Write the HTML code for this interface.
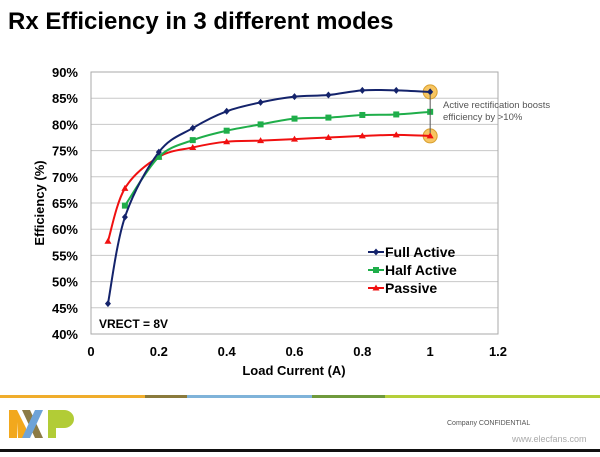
<!DOCTYPE html>
<html><head><meta charset="utf-8"><style>
body{margin:0;width:600px;height:452px;background:#fff;overflow:hidden;font-family:"Liberation Sans",Arial,sans-serif;}
</style></head><body>
<svg width="600" height="452" xmlns="http://www.w3.org/2000/svg">
<text x="8" y="29" font-size="24" font-weight="bold" fill="#000">Rx Efficiency in 3 different modes</text>
<g id="plot"></g>
<g>
<rect x="0" y="395" width="145" height="3" fill="#f0ad2c"/>
<rect x="145" y="395" width="42" height="3" fill="#8a7a3c"/>
<rect x="187" y="395" width="125" height="3" fill="#7fb3d9"/>
<rect x="312" y="395" width="73" height="3" fill="#6f9a3c"/>
<rect x="385" y="395" width="215" height="3" fill="#b5cf3a"/>
</g>
<g>
<polygon points="9,410 17,410 26,428 26,438 18,438 17,422 17,438 9,438" fill="#f2a81d"/>
<polygon points="22,410 30,410 43,438 35,438" fill="#8c7b45"/>
<polygon points="35,410 43,410 30,438 22,438" fill="#6ea3d8"/>
<path d="M48,410 h16 a10,9 0 0 1 0,18 h-8 v10 h-8z" fill="#b2cc36"/>
</g>
<text x="447" y="425" font-size="7" fill="#555">Company CONFIDENTIAL</text>
<text x="512" y="442" font-size="9" fill="#aaa">www.elecfans.com</text>
<rect x="0" y="449" width="600" height="3" fill="#111"/>
</svg>
<script>
const xFull=[0.05,0.1,0.2,0.3,0.4,0.5,0.6,0.7,0.8,0.9,1.0];
const yFull=[45.8,62.3,74.7,79.3,82.5,84.2,85.3,85.6,86.5,86.5,86.2];
const xHalf=[0.1,0.2,0.3,0.4,0.5,0.6,0.7,0.8,0.9,1.0];
const yHalf=[64.5,73.8,77.0,78.8,80.0,81.1,81.3,81.8,81.9,82.4];
const xPass=[0.05,0.1,0.2,0.3,0.4,0.5,0.6,0.7,0.8,0.9,1.0];
const yPass=[57.7,67.8,73.8,75.6,76.7,76.9,77.2,77.5,77.8,78.0,77.8];
const xTicks=["0","0.2","0.4","0.6","0.8","1","1.2"];
const yTicks=["40%","45%","50%","55%","60%","65%","70%","75%","80%","85%","90%"];
const NS="http://www.w3.org/2000/svg";
const g=document.getElementById('plot');
const L=91,R=498,T=72,B=334;
const sx=v=>L+(v/1.2)*(R-L);
const sy=v=>B-(v-40)/50*(B-T);
function el(t,a,p){const e=document.createElementNS(NS,t);for(const k in a)e.setAttribute(k,a[k]);(p||g).appendChild(e);return e;}
for(let i=1;i<yTicks.length;i++){
 const l=el('line',{x1:L,x2:R,y1:sy(40+i*5),y2:sy(40+i*5),stroke:'#c8c8c8','stroke-width':1});
 
 
}
const fr=el('rect',{x:L,y:T,width:R-L,height:B-T,fill:'none',stroke:'#aaa','stroke-width':1});


yTicks.forEach((t,i)=>{
 const e=el('text',{x:L-13,y:sy(40+i*5)+5,'font-size':13,'font-weight':'bold','text-anchor':'end'});e.textContent=t;
 
 
});
xTicks.forEach((t,i)=>{
 const e=el('text',{x:sx(i*0.2),y:B+22,'font-size':13,'font-weight':'bold','text-anchor':'middle'});e.textContent=t;
 
 
});
const xt=el('text',{x:294,y:375,'font-size':13,'font-weight':'bold','text-anchor':'middle'});xt.textContent='Load Current (A)';


const yt=el('text',{x:0,y:0,'font-size':13,'font-weight':'bold','text-anchor':'middle',transform:'translate(44,203) rotate(-90)'});yt.textContent='Efficiency (%)';


const vr=el('text',{x:99,y:328,'font-size':12,'font-weight':'bold'});vr.textContent='VRECT = 8V';


function path(xs,ys){
 const p=xs.map((x,i)=>[sx(x),sy(ys[i])]);
 let d='M'+p[0][0]+','+p[0][1];
 for(let i=0;i<p.length-1;i++){
  const p0=p[i-1]||p[i],p1=p[i],p2=p[i+1],p3=p[i+2]||p2;
  const c1=[p1[0]+(p2[0]-p0[0])/6,p1[1]+(p2[1]-p0[1])/6];
  const c2=[p2[0]-(p3[0]-p1[0])/6,p2[1]-(p3[1]-p1[1])/6];
  d+=' C'+c1+' '+c2+' '+p2;
 }
 return d;
}
[86.2,77.8].forEach(v=>{
 const c=el('circle',{cx:sx(1),cy:sy(v),r:7,fill:'#f7c561',stroke:'#d9a030','stroke-width':1});
 
 
});
function series(xs,ys,color,shape,name){
 const s=el('path',{d:path(xs,ys),fill:'none',stroke:color,'stroke-width':2});
 
 
 xs.forEach((x,i)=>{
  const cx=sx(x),cy=sy(ys[i]);let m;
  if(shape==='d')m=el('polygon',{points:`${cx},${cy-3.5} ${cx+3},${cy} ${cx},${cy+3.5} ${cx-3},${cy}`,fill:color});
  else if(shape==='s')m=el('rect',{x:cx-3,y:cy-3,width:6,height:6,fill:color});
  else m=el('polygon',{points:`${cx},${cy-3.5} ${cx+3.5},${cy+2.5} ${cx-3.5},${cy+2.5}`,fill:color});
  
  
 });
}
series(xPass,yPass,'#f01010','t','passive');
series(xHalf,yHalf,'#1fae4a','s','half-active');
series(xFull,yFull,'#14236b','d','full-active');
const ar=el('line',{x1:sx(1),x2:sx(1),y1:sy(86.2)+2,y2:sy(77.8)-3,stroke:'#555','stroke-width':1});


const an=el('text',{x:443,y:108,'font-size':9.5,fill:'#555'});


an.innerHTML='<tspan x="443">Active rectification boosts</tspan><tspan x="443" dy="12">efficiency by &gt;10%</tspan>';
const leg=[['Full Active','#14236b','d'],['Half Active','#1fae4a','s'],['Passive','#f01010','t']];
leg.forEach((l,i)=>{
 const y=252+i*18;
 const ln=el('line',{x1:368,x2:384,y1:y,y2:y,stroke:l[1],'stroke-width':2});
 
 
 let m;
 if(l[2]==='d')m=el('polygon',{points:`376,${y-3.5} 379,${y} 376,${y+3.5} 373,${y}`,fill:l[1]});
 else if(l[2]==='s')m=el('rect',{x:373,y:y-3,width:6,height:6,fill:l[1]});
 else m=el('polygon',{points:`376,${y-3.5} 379.5,${y+2.5} 372.5,${y+2.5}`,fill:l[1]});
 
 
 const t=el('text',{x:385,y:y+5,'font-size':14,'font-weight':'bold'});t.textContent=l[0];
 
 
});
</script>
</body></html>
